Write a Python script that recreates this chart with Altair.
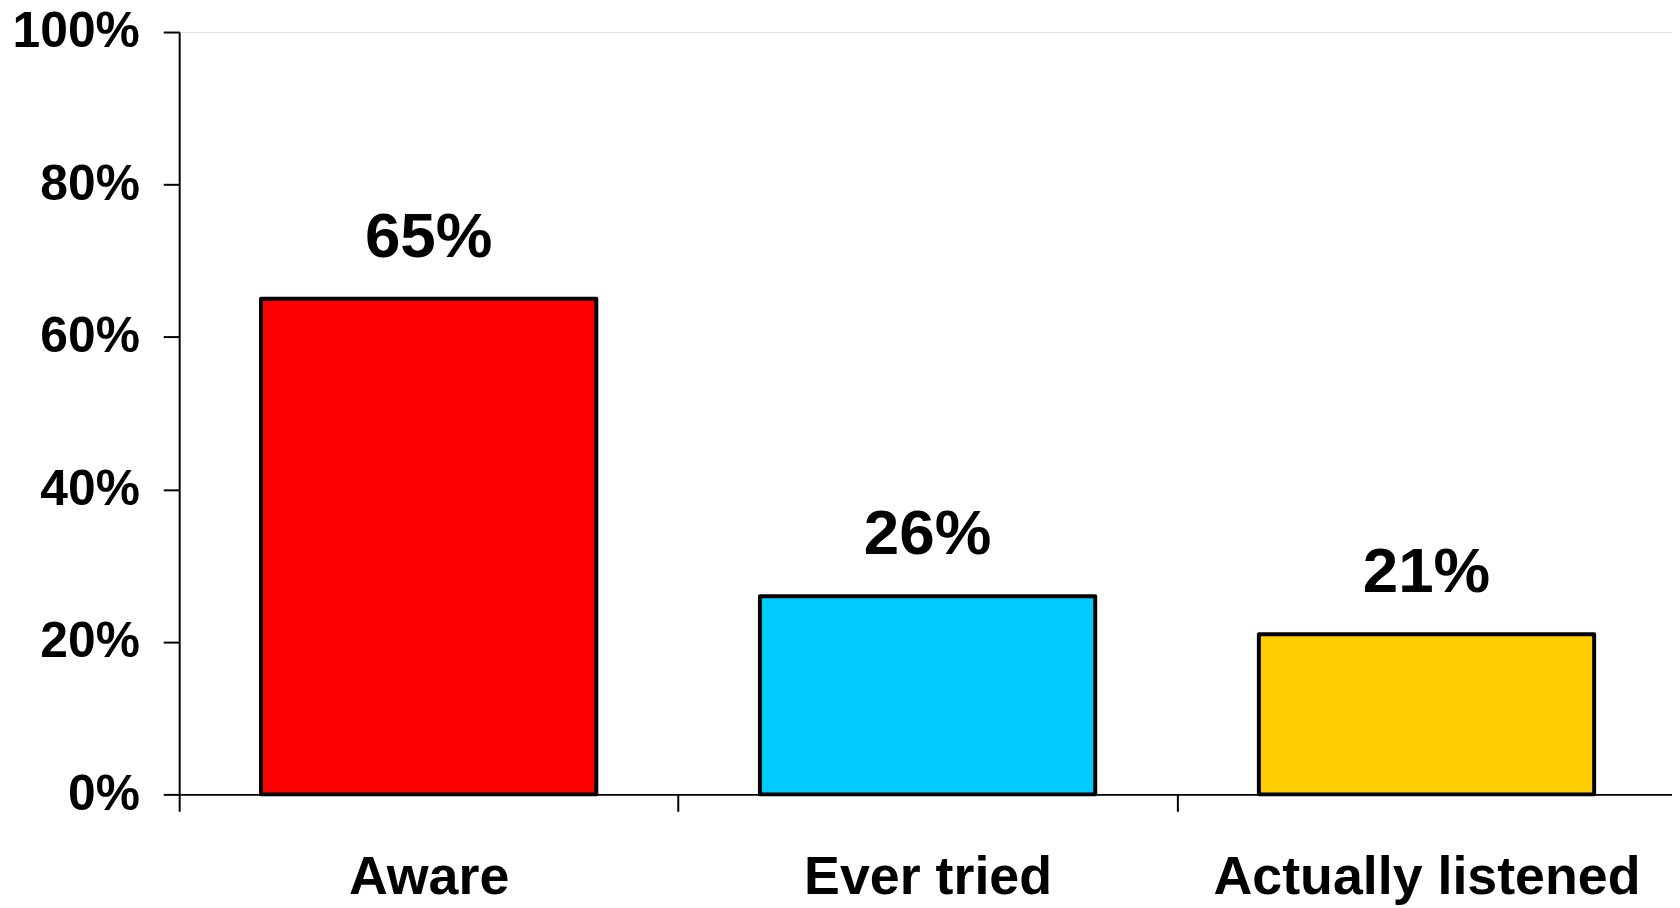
import altair as alt
import pandas as pd

categories = ["Aware", "Ever tried", "Actually listened"]
values = [65, 26, 21]
value_labels = ["65%", "26%", "21%"]
bar_colors = ["#FF0000", "#00CCFF", "#FFCC00"]
y_ticks = [0, 20, 40, 60, 80, 100]

df = pd.DataFrame({"category": categories, "value": values, "label": value_labels})

FONT = "Liberation Sans"

x_enc = alt.X(
    "category:N",
    sort=categories,
    title=None,
    scale=alt.Scale(paddingInner=0, paddingOuter=0, range=[0, 1504]),
    axis=alt.Axis(
        labelAngle=0,
        tickBand="extent",
        labelFont=FONT,
        labelFontWeight="bold",
        labelFontSize=54,
        labelColor="black",
        labelBaseline="top",
        labelPadding=40,
        labelLimit=0,
        tickSize=17,
        tickWidth=2,
        tickColor="black",
        domainColor="black",
        domainWidth=2,
        grid=False,
    ),
)

y_enc = alt.Y(
    "value:Q",
    title=None,
    scale=alt.Scale(domain=[0, 100], nice=False),
    axis=alt.Axis(
        values=y_ticks,
        labelExpr="datum.value + '%'",
        labelFont=FONT,
        labelFontWeight="bold",
        labelFontSize=50,
        labelColor="black",
        labelPadding=24,
        labelBaseline="middle",
        labelLimit=0,
        tickSize=16,
        tickWidth=2,
        tickColor="black",
        domainColor="black",
        domainWidth=2,
        grid=False,
    ),
)

bars = alt.Chart(df).mark_bar(
    stroke="black", strokeWidth=4, strokeJoin="round", width={"band": 0.672}
).encode(
    x=x_enc,
    y=y_enc,
    color=alt.Color("category:N", sort=categories,
                    scale=alt.Scale(domain=categories, range=bar_colors), legend=None),
)

text = alt.Chart(df).mark_text(
    dy=-42, baseline="alphabetic", fontSize=64, fontWeight="bold", font=FONT, color="black"
).encode(
    x=alt.X("category:N", sort=categories),
    y=alt.Y("value:Q"),
    text="label:N",
)

chart = alt.layer(bars, text).properties(
    width=1500,
    height=766,
    padding={"left": 172, "top": 22, "right": 0, "bottom": 110},
    autosize=alt.AutoSizeParams(type="none"),
).configure_view(stroke=None).configure(background="white")

chart.save("out.html", embed_options={"renderer": "svg", "actions": False})
